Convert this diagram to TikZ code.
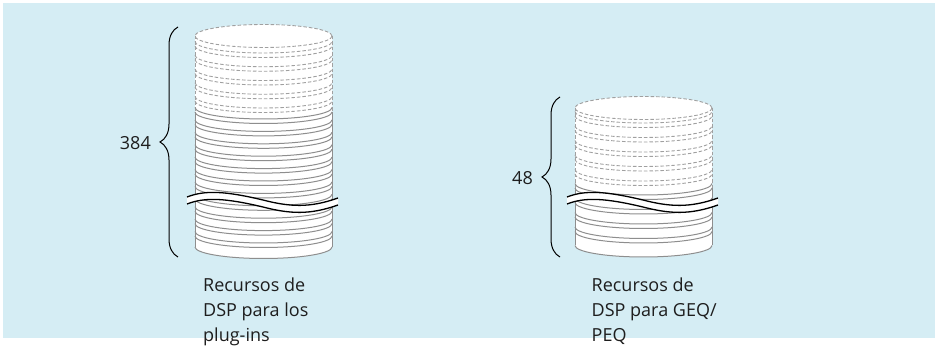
\documentclass[tikz,border=0pt]{standalone}
\usepackage{fontspec}
\setmainfont{Open Sans}
\usetikzlibrary{decorations.pathreplacing}

\definecolor{panel}{HTML}{D5EDF4}
\definecolor{rim}{HTML}{8E8E8E}
\definecolor{rimdash}{HTML}{A0A0A0}
\definecolor{ink}{HTML}{1E1E1E}

\tikzset{
  rimline/.style={draw=rim, line width=1pt},
  rimdashed/.style={draw=rimdash, line width=0.9pt, dash pattern=on 3.5pt off 2pt},
  breakline/.style={draw=black, line width=1.3pt},
  bracket/.style={draw=black, line width=1pt, decorate, decoration={brace, amplitude=18pt}},
  count/.style={font=\fontsize{18}{20}\selectfont, text=ink, anchor=base east, inner sep=0pt},
  caption/.style={font=\fontsize{18}{20}\selectfont, text=ink, anchor=base west, inner sep=0pt},
}

% front half of one disk rim: style, centre x, y of the front point
\newcommand\rimarc[3]{%
  \draw[#1] ({#2-68.5},{#3-11.5}) arc[start angle=180, end angle=360, x radius=68.5pt, y radius=11.5pt];}

% white body of a cylinder: centre x, top centre y, bottom centre y
\newcommand\cylbody[3]{%
  \fill[white] ({#1-68.5},#2) -- ({#1-68.5},#3)
    arc[start angle=180, end angle=360, x radius=68.5pt, y radius=11.5pt]
    -- ({#1+68.5},#2)
    arc[start angle=0, end angle=180, x radius=68.5pt, y radius=11.5pt] -- cycle;}

% torn band across a stack
\newcommand\wavebreak{%
  \fill[white] (187,197) .. controls (205,190) and (225,191) .. (263,200)
     .. controls (290,207) and (310,208) .. (338,198) -- (338,205)
     .. controls (310,215) and (290,214) .. (263,207)
     .. controls (225,198) and (205,197) .. (187,204) -- cycle;
  \draw[breakline] (187,197) .. controls (205,190) and (225,191) .. (263,200)
     .. controls (290,207) and (310,208) .. (338,198);
  \draw[breakline] (187,204) .. controls (205,197) and (225,198) .. (263,207)
     .. controls (290,214) and (310,215) .. (338,205);}

\begin{document}
\begin{tikzpicture}[x=1pt, y=-1pt]
\useasboundingbox (0,0) rectangle (935,352);
\fill[panel] (3,3) rectangle (935,338);

% ---- large stack (plug-ins) ----
\cylbody{263.5}{36}{247}
\draw[rimdashed] (195,36) -- (195,112) (332,36) -- (332,112);
\draw[rimline] (195,112) -- (195,247) (332,112) -- (332,247);
\draw[rimdashed] (263.5,36) ellipse[x radius=68.5pt, y radius=11.5pt];
\foreach \yy in {53,66.75,80.5,94.25,108}{
  \rimarc{rimdashed}{263.5}{\yy}
  \rimarc{rimdashed}{263.5}{\yy+4.5}}
\foreach \k in {0,...,10}{
  \rimarc{rimline}{263.5}{119+12.4*\k}
  \rimarc{rimline}{263.5}{123.5+12.4*\k}}
\rimarc{rimline}{263.5}{258.5}
\wavebreak

% ---- small stack (GEQ/PEQ) ----
\cylbody{643.5}{108}{245.5}
\draw[rimdashed] (575,108) -- (575,188) (712,108) -- (712,188);
\draw[rimline] (575,188) -- (575,245.5) (712,188) -- (712,245.5);
\draw[rimdashed] (643.5,108) ellipse[x radius=68.5pt, y radius=11.5pt];
\foreach \yy in {123,137.5,152,166.5,181}{
  \rimarc{rimdashed}{643.5}{\yy}
  \rimarc{rimdashed}{643.5}{\yy+4.5}}
\foreach \yy in {195,209.5,224,238.5}{
  \rimarc{rimline}{643.5}{\yy}
  \rimarc{rimline}{643.5}{\yy+4.5}}
\rimarc{rimline}{643.5}{257}
\begin{scope}[xshift=380pt]
  \wavebreak
\end{scope}

% ---- braces and counts ----
\coordinate (bigbot) at (178,257);
\coordinate (bigtop) at (178,27);
\draw[bracket] (bigbot) -- (bigtop);
\node[count] (bigcount) at (151,149.5) {384};

\coordinate (smallbot) at (560,257);
\coordinate (smalltop) at (560,97);
\draw[bracket] (smallbot) -- (smalltop);
\node[count] (smallcount) at (533,184.5) {48};

% ---- captions ----
\node[caption] (capa1) at (203,291.7) {Recursos de};
\node[caption] (capa2) at (203,316.7) {DSP para los};
\node[caption] (capa3) at (203,341.7) {plug-ins};

\node[caption] (capb1) at (591.5,291.7) {Recursos de};
\node[caption] (capb2) at (591.5,316.7) {DSP para GEQ/};
\node[caption] (capb3) at (591.5,341.7) {PEQ};
\end{tikzpicture}
\end{document}
